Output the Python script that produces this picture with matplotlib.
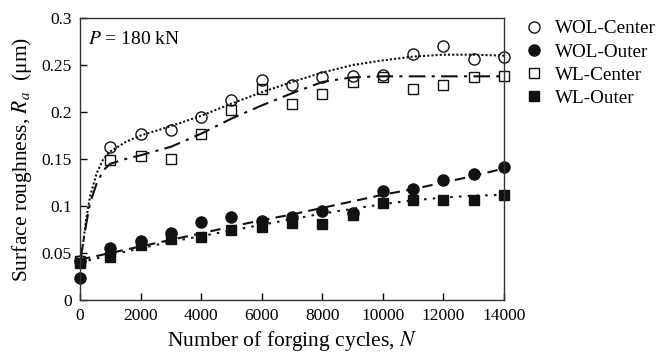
import numpy as np
import matplotlib
matplotlib.use("Agg")
import matplotlib.pyplot as plt

plt.rcParams['font.family'] = ['Liberation Serif', 'DejaVu Serif']
plt.rcParams['mathtext.fontset'] = 'stix'
plt.rcParams['font.size'] = 12

# measured surface roughness (um) vs forging cycles
cycles = [0, 1000, 2000, 3000, 4000, 5000, 6000, 7000, 8000, 9000, 10000, 11000, 12000, 13000, 14000]
wol_center = [0.042, 0.163, 0.177, 0.181, 0.195, 0.213, 0.234, 0.229, 0.237, 0.238, 0.239, 0.262, 0.270, 0.256, 0.259]
wol_outer = [0.023, 0.055, 0.063, 0.071, 0.083, 0.088, 0.084, 0.088, 0.095, 0.093, 0.116, 0.118, 0.128, 0.134, 0.142]
wl_center = [0.041, 0.149, 0.153, 0.150, 0.177, 0.202, 0.225, 0.209, 0.219, 0.232, 0.237, 0.225, 0.229, 0.237, 0.238]
wl_outer = [0.039, 0.046, 0.059, 0.065, 0.067, 0.074, 0.078, 0.082, 0.081, 0.090, 0.103, 0.106, 0.106, 0.106, 0.112]

# trend curves
trend_n = [0, 100, 200, 330, 550, 770, 1000, 1500, 2000, 3000, 4000, 5000, 6000,
           7000, 8000, 9000, 10000, 11000, 12000, 13000, 14000]
trend_wol_center = [0.040, 0.060, 0.085, 0.110, 0.135, 0.150, 0.158, 0.168, 0.175, 0.185, 0.196,
                    0.209, 0.221, 0.232, 0.242, 0.250, 0.255, 0.259, 0.261, 0.261, 0.260]
trend_wl_center = [0.040, 0.060, 0.080, 0.103, 0.124, 0.138, 0.145, 0.150, 0.154, 0.163, 0.177,
                   0.193, 0.207, 0.220, 0.232, 0.237, 0.238, 0.238, 0.238, 0.238, 0.238]
trend_n_outer = [0, 1000, 2000, 3000, 4000, 5000, 6000, 7000, 8000, 9000, 10000, 11000, 12000, 13000, 14000]
trend_wol_outer = [0.043, 0.050, 0.057, 0.064, 0.071, 0.078, 0.085, 0.091, 0.098, 0.105, 0.112,
                   0.118, 0.125, 0.132, 0.140]
trend_wl_outer = [0.040, 0.048, 0.055, 0.062, 0.068, 0.074, 0.080, 0.086, 0.092, 0.097, 0.102,
                  0.106, 0.109, 0.111, 0.112]

fig = plt.figure(figsize=(6.64, 3.54), dpi=100)
ax = fig.add_axes([0.1205, 0.1525, 0.6385, 0.7965])

k = '#111111'
ax.plot(trend_n, trend_wol_center, color=k, lw=1.5, linestyle=(0, (1, 1)))
ax.plot(trend_n, trend_wl_center, color=k, lw=1.5, linestyle=(0, (8, 3, 1.5, 3)))
ax.plot(trend_n_outer, trend_wol_outer, color=k, lw=1.5, linestyle=(0, (5, 3)))
ax.plot(trend_n_outer, trend_wl_outer, color=k, lw=1.5, linestyle=(0, (1.2, 3)))

ax.plot(cycles, wol_center, 'o', ms=8, mfc='none', mec=k, mew=1.0, label='WOL-Center', clip_on=False)
ax.plot(cycles, wol_outer, 'o', ms=8, mfc=k, mec=k, label='WOL-Outer', clip_on=False)
ax.plot(cycles, wl_center, 's', ms=7.5, mfc='none', mec=k, mew=1.0, label='WL-Center', clip_on=False)
ax.plot(cycles, wl_outer, 's', ms=7.5, mfc=k, mec=k, label='WL-Outer', clip_on=False)

ax.set_xlim(0, 14000)
ax.set_ylim(0, 0.3)
ax.set_xticks(np.arange(0, 14001, 2000))
ax.set_yticks(np.arange(0, 0.301, 0.05))
ax.set_yticklabels(['0', '0.05', '0.1', '0.15', '0.2', '0.25', '0.3'])
ax.tick_params(direction='in', length=5, width=1, labelsize=12.5, pad=6)
for s in ax.spines.values():
    s.set_linewidth(1.0)
    s.set_color('#333333')

ax.set_xlabel('Number of forging cycles, $N$', fontsize=15.5, labelpad=3)
ax.set_ylabel('Surface roughness, $R_a$  (μm)', fontsize=15.5, labelpad=5)
ax.text(0.02, 0.955, '$P$ = 180 kN', transform=ax.transAxes, fontsize=14, va='top', ha='left')

ax.legend(loc='upper left', bbox_to_anchor=(1.03, 1.02), frameon=False, fontsize=13.8,
          handlelength=1.0, handletextpad=0.6, labelspacing=0.3, borderaxespad=0)

fig.savefig('out.png', dpi=100)
